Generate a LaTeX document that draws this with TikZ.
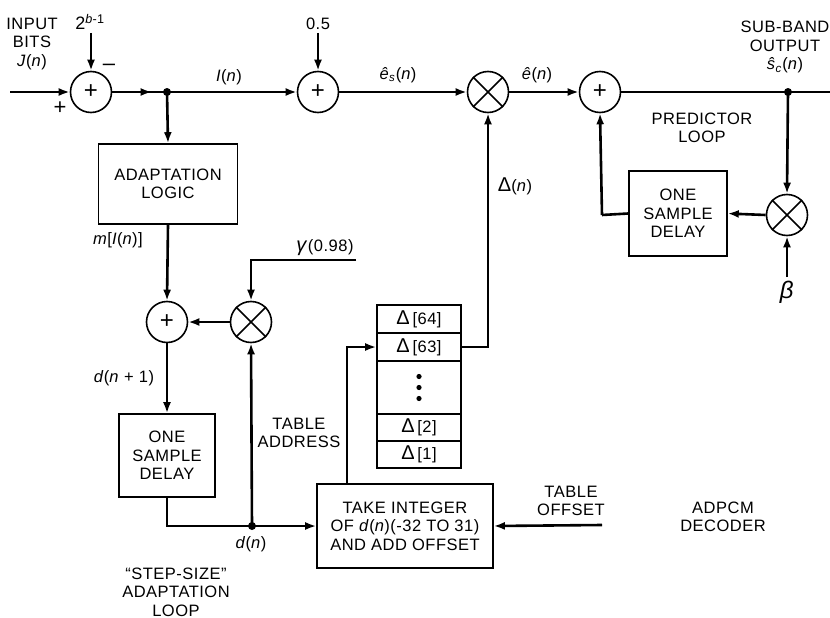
\documentclass[tikz,border=0pt]{standalone}
\usepackage{fontspec}
\setmainfont{Liberation Sans}[LetterSpace=3]
\usetikzlibrary{arrows.meta,decorations.markings}
\newcommand{\Dl}{{\fontsize{20}{20}\selectfont Δ}}
\begin{document}
\begin{tikzpicture}[x=1pt,y=-1pt,
  every node/.style={font=\fontsize{16.5}{18.5}\selectfont, inner sep=0pt, align=center},
  conn/.style={line width=2.6pt},
  arr/.style={conn,-{Latex[length=11pt,width=8pt]}},
  midarr/.style={conn,decoration={markings,mark=at position #1 with {\arrow{Latex[length=11pt,width=8pt]}}},postaction={decorate}},
  blk/.style={draw,line width=1.6pt},
  sumc/.style={draw,circle,line width=1.6pt,minimum size=41pt,font=\fontsize{24}{24}\selectfont},
  mulc/.style={draw,circle,line width=1.6pt,minimum size=41pt},
  jdot/.style={circle,fill,minimum size=8pt},
  row/.style={draw,line width=1.6pt,minimum width=84pt}
]
\useasboundingbox (0,0) rectangle (830,618);

% summers and multipliers
\node[sumc] (s1) at (91,92) {+};
\node[sumc] (s2) at (318,92) {+};
\node[mulc] (m1) at (488,92) {};
\node[sumc] (s3) at (600,92) {+};
\node[mulc] (m2) at (787,215) {};
\node[sumc] (s4) at (167,322) {+};
\node[mulc] (m3) at (251,322) {};
\foreach \m in {m1,m2,m3}
  \draw[line width=1.6pt] (\m.north east)--(\m.south west) (\m.north west)--(\m.south east);

% junctions
\node[jdot] (j1) at (167,92) {};
\node[jdot] (j2) at (788,92) {};
\node[jdot] (j3) at (252,526) {};

% blocks
\node[blk,minimum width=139pt,minimum height=80pt] (adapt) at (168,184) {ADAPTATION\\LOGIC};
\node[blk,minimum width=96pt,minimum height=83pt] (del2) at (167,455.5) {ONE\\SAMPLE\\DELAY};
\node[blk,minimum width=98pt,minimum height=85pt] (del1) at (678,213.5) {ONE\\SAMPLE\\DELAY};
\node[blk,minimum width=176pt,minimum height=84pt] (take) at (405,526) {TAKE INTEGER\\OF \textit{d}(\textit{n})(-32 TO 31)\\AND ADD OFFSET};

% table
\node[row,minimum height=28pt] (t64) at (419,319) {\Dl\,[64]};
\node[row,minimum height=28pt] (t63) at (419,347) {\Dl\,[63]};
\node[row,minimum height=53pt] (tdots) at (419,387.5) {};
\node[row,minimum height=27pt] (t2) at (419,427.5) {\Dl\,[2]};
\node[row,minimum height=27pt] (t1) at (419,454.5) {\Dl\,[1]};
\foreach \dy in {-11,0,11}
  \fill ([yshift=-\dy pt]tdots.center) circle (2.6pt);

% free ends
\coordinate (in) at (10,92);
\coordinate (out) at (830,92);
\coordinate (c2b) at (91,33);
\coordinate (c05) at (318,33);
\coordinate (cbeta) at (787,277);
\coordinate (cgam) at (356,260);
\coordinate (coff) at (602,525);
\coordinate (cfb) at (602,215);
\coordinate (ctk) at (347,484);

% main line
\draw[arr] (in) -- (s1.west);
\draw[arr] (c2b) -- (s1.north);
\draw[midarr=0.72] (s1.east) -- (j1.center);
\draw[arr] (j1.center) -- (s2.west);
\draw[arr] (c05) -- (s2.north);
\draw[arr] (s2.east) -- (m1.west);
\draw[arr] (m1.east) -- (s3.west);
\draw[conn] (s3.east) -- (out);

% predictor loop
\draw[arr] (j2.center) -- (m2.north);
\draw[arr] (cbeta) -- (m2.south);
\draw[arr] (m2.west) -- (del1.east);
\draw[conn] (del1.west) -- (cfb);
\draw[arr] (cfb) -- (s3.south);

% step size loop
\draw[arr] (j1.center) -- (adapt.north);
\draw[arr] (adapt.south) -- (s4.north);
\draw[arr] (cgam) -| (m3.north);
\draw[arr] (m3.west) -- (s4.east);
\draw[arr] (s4.south) -- (del2.north);
\draw[arr] (del2.south) |- (take.west);
\draw[arr] (j3.center) -- (m3.south);
\draw[arr] (coff) -- (take.east);
\draw[arr] (ctk) |- (t63.west);
\draw[arr] (t63.east) -| (m1.south);

% labels
\node (lin) at (32,44) {INPUT\\BITS\\\textit{J}(\textit{n})};
\node (l2b) at (90,22) {\fontsize{18}{18}\selectfont 2\textsuperscript{\textit{b}-1}};
\node (lminus) at (109,67) {\fontsize{22}{22}\selectfont –};
\node (lplus) at (60,108) {\fontsize{22}{22}\selectfont +};
\node (lI) at (229,77) {\textit{I}(\textit{n})};
\node (l05) at (318,24) {0.5};
\node (les) at (398,75) {\textit{ê}\textsubscript{\textit{s}}(\textit{n})};
\node (le) at (537,75) {\textit{ê}(\textit{n})};
\node (lsub) at (785,47) {SUB-BAND\\OUTPUT\\\textit{ŝ}\textsubscript{\textit{c}}(\textit{n})};
\node (lpred) at (702,128) {PREDICTOR\\LOOP};
\node (lbeta) at (787,292) {\fontsize{24}{24}\selectfont\textit{β}};
\node (ldn) at (515,186) {\Dl(\textit{n})};
\node (lm) at (118,240) {\textit{m}[\textit{I}(\textit{n})]};
\node (lgam) at (325,248) {{\fontsize{20}{20}\selectfont\textit{γ}}(0.98)};
\node (ldn1) at (124,378) {\textit{d}(\textit{n} + 1)};
\node (ltab) at (299,433) {TABLE\\ADDRESS};
\node (ld) at (251,544) {\textit{d}(\textit{n})};
\node (lstep) at (176,592) {“STEP-SIZE”\\ADAPTATION\\LOOP};
\node (loff) at (571,501) {TABLE\\OFFSET};
\node (ladp) at (723,517) {ADPCM\\DECODER};
\end{tikzpicture}
\end{document}
